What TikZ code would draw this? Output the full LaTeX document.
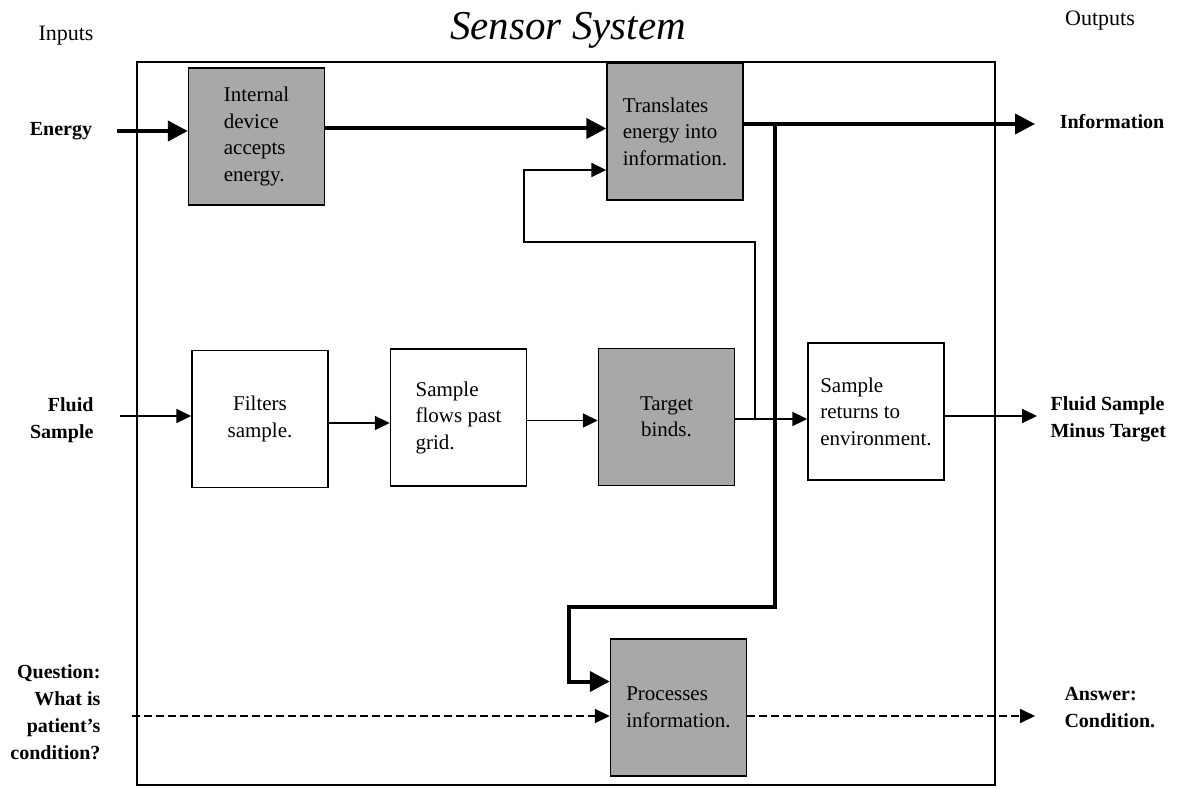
\documentclass[tikz,border=0pt]{standalone}
\usepackage{fontspec}
\setmainfont{Liberation Serif}
\usetikzlibrary{arrows.meta}
\definecolor{shade}{gray}{0.66}

\begin{document}
\begin{tikzpicture}[x=1pt, y=-1pt,
    block/.style={draw, line width=1.4pt, minimum width=136pt, minimum height=137pt,
        inner sep=0pt, align=left, font=\fontsize{21}{26.5}\selectfont},
    grayblock/.style={block, fill=shade},
    iolabel/.style={font=\fontsize{20}{27}\selectfont\bfseries},
    thickarrow/.style={line width=4pt, -{Triangle[length=20pt, width=20pt]}},
    thinarrow/.style={line width=1.8pt, -{Triangle[length=15pt, width=14pt]}},
    dasharrow/.style={thinarrow, dash pattern=on 8pt off 4pt}]
                \useasboundingbox (0,0) rectangle (1177,789);
                % Frame and headings:
                \node[draw, line width=1.8pt, minimum width=858pt, minimum height=723pt] (sys) at (566,423.5) {};
                \node[font=\fontsize{41}{45}\selectfont\itshape] (title) at (568,30) {Sensor System};
                \node[font=\fontsize{22}{26}\selectfont] (inputs) at (66,36) {Inputs};
                \node[font=\fontsize{22}{26}\selectfont] (outputs) at (1100,21) {Outputs};
                % Blocks:
                \node[grayblock] (accept) at (256.5,136.5) {Internal\\device\\accepts\\energy.};
                \node[grayblock] (translate) at (675,131.5) {Translates\\energy into\\information.};
                \node[block, align=center] (filter) at (260,419) {Filters\\sample.};
                \node[block] (flow) at (458.5,417.5) {Sample\\flows past\\grid.};
                \node[grayblock, align=center] (bind) at (666.5,417) {Target\\binds.};
                \node[block] (return) at (876,411.5) {Sample\\returns to\\environment.};
                \node[grayblock] (process) at (678.5,707.5) {Processes\\information.};
                % Inputs and outputs:
                \node[iolabel] (energy) at (61,131) {Energy};
                \node[iolabel, align=right, anchor=east] (fluid) at (97,420) {Fluid\\Sample};
                \node[iolabel, align=right, anchor=east] (question) at (104,712) {Question:\\What is\\patient’s\\condition?};
                \node[iolabel] (info) at (1112,122) {Information};
                \node[iolabel, align=left, anchor=west] (remain) at (1047,419) {Fluid Sample\\Minus Target};
                \node[iolabel, align=left, anchor=west] (answer) at (1061,708) {Answer:\\Condition.};
                \coordinate (energyin) at (117,131);
                \coordinate (infoout) at (1035,124);
                \coordinate (split) at (775,124);
                \coordinate (down) at (775,607);
                \coordinate (left) at (569,607);
                \coordinate (fluidin) at (120,416);
                \coordinate (tap) at (755,419);
                \coordinate (loop) at (524,242);
                \coordinate (remainout) at (1037,416);
                \coordinate (questionin) at (132,716);
                \coordinate (answerout) at (1035,716);
                % Wires:
                \draw[thickarrow] (energyin) -- (energyin -| accept.west);
                \draw[thickarrow] ([yshift=8pt]accept.east) -- ([yshift=8pt]accept.east -| translate.west);
                \draw[thickarrow] (translate.east |- infoout) -- (infoout);
                \draw[thickarrow] (split) -- (down) -- (left) |- ([yshift=26pt]process.west);
                \draw[thinarrow] (fluidin) -- (fluidin -| filter.west);
                \draw[thinarrow] ([yshift=-4pt]filter.east) -- ([yshift=-4pt]filter.east -| flow.west);
                \draw[thinarrow] ([yshift=-3pt]flow.east) -- ([yshift=-3pt]flow.east -| bind.west);
                \draw[thinarrow] ([yshift=-2pt]bind.east) -- ([yshift=-2pt]bind.east -| return.west);
                \draw[thinarrow] (tap) |- (loop) |- ([yshift=-38.5pt]translate.west);
                \draw[thinarrow] (return.east |- remainout) -- (remainout);
                \draw[dasharrow] (questionin) -- (questionin -| process.west);
                \draw[dasharrow] (process.east |- answerout) -- (answerout);
            \end{tikzpicture}
\end{document}
